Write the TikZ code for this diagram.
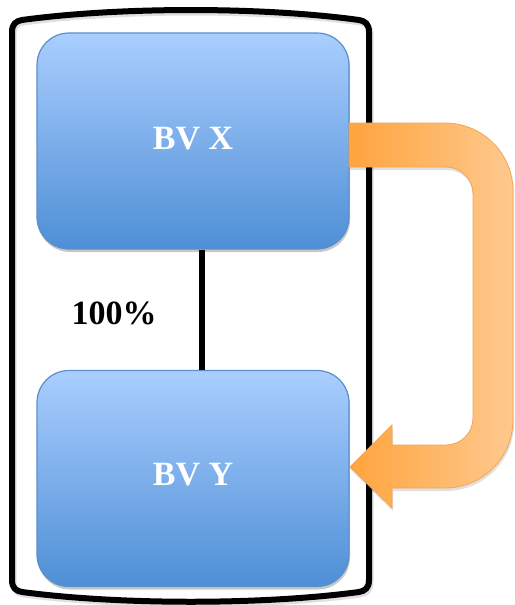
\documentclass[tikz,border=0pt]{standalone}
\usepackage{fontspec}
\setmainfont{Liberation Serif}
\usetikzlibrary{shadows}
\definecolor{boxtop}{HTML}{AACEFF}
\definecolor{boxbot}{HTML}{4E8FD6}
\definecolor{boxline}{HTML}{5B8FC9}
\definecolor{orL}{HTML}{FFA43E}
\definecolor{orR}{HTML}{FEC98E}
\definecolor{orline}{HTML}{F4A456}
\tikzset{
  entity/.style={draw=boxline, line width=1.2pt, rounded corners=32pt,
    top color=boxtop, bottom color=boxbot,
    minimum width=312pt, minimum height=216pt, inner sep=0pt,
    drop shadow={shadow xshift=1pt, shadow yshift=-3pt, opacity=0.22, fill=black}},
  entitytext/.style={text=white, font=\fontsize{34}{38}\selectfont\bfseries},
  frameline/.style={line width=6pt, line join=round},
  linkline/.style={line width=6.5pt},
}
\begin{document}
\begin{tikzpicture}[x=1pt, y=-1pt]
\useasboundingbox (0,0) rectangle (514,605);

% outer frame with a faint shadow
\draw[frameline, gray!40, opacity=0.6, xshift=1.5pt, yshift=-2.5pt]
  (12,40) -- (12,32) .. controls (12,24) and (16,21) .. (22,20)
  .. controls (120,6.7) and (262,6.7) .. (359,20)
  .. controls (365,21) and (369,24) .. (369,32)
  -- (369,580) .. controls (369,588) and (365,591) .. (359,592)
  .. controls (262,605) and (120,605) .. (22,592)
  .. controls (16,591) and (12,588) .. (12,580) -- cycle;
\draw[frameline]
  (12,40) -- (12,32) .. controls (12,24) and (16,21) .. (22,20)
  .. controls (120,6.7) and (262,6.7) .. (359,20)
  .. controls (365,21) and (369,24) .. (369,32)
  -- (369,580) .. controls (369,588) and (365,591) .. (359,592)
  .. controls (262,605) and (120,605) .. (22,592)
  .. controls (16,591) and (12,588) .. (12,580) -- cycle;

% the two entities
\node[entity] (bvx) at (193,141) {};
\node[entity] (bvy) at (193,478.5) {};
\node[entitytext] (bvxlabel) at (193,138.5) {BV X};
\node[entitytext] (bvylabel) at (193,474.5) {BV Y};

% ownership link
\draw[linkline] (bvx.south -| 202,0) -- (bvy.north -| 202,0);
\node[font=\fontsize{34}{38}\selectfont\bfseries] (pct) at (114,313) {100\%};

% curved transfer arrow from BV X back to BV Y
\fill[black, opacity=0.12, xshift=1pt, yshift=-3pt]
  (349,123) [rounded corners=68pt] -- (513,123) -- (513,488)
  [sharp corners] -- (392,488) -- (392,508) -- (350,467) -- (392,425) -- (392,445)
  [rounded corners=27pt] -- (473,445) -- (473,167)
  [sharp corners] -- (349,167) -- cycle;
\draw[draw=orline, line width=0.8pt, left color=orL, right color=orR]
  (349,123) [rounded corners=68pt] -- (513,123) -- (513,488)
  [sharp corners] -- (392,488) -- (392,508) -- (350,467) -- (392,425) -- (392,445)
  [rounded corners=27pt] -- (473,445) -- (473,167)
  [sharp corners] -- (349,167) -- cycle;
\end{tikzpicture}
\end{document}
